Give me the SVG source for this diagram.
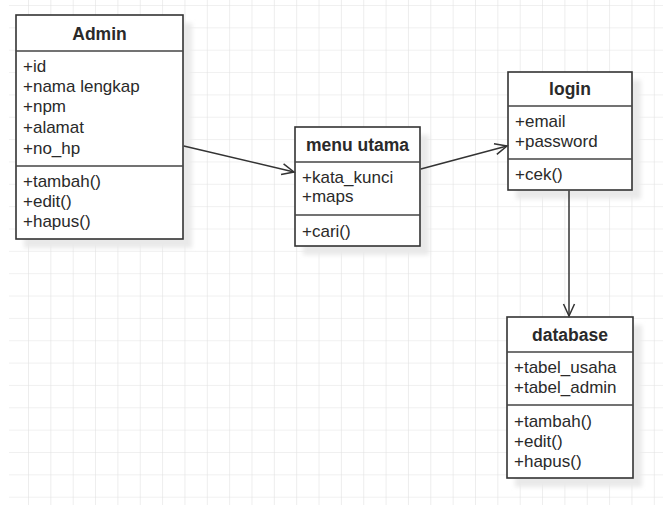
<svg xmlns="http://www.w3.org/2000/svg" width="663" height="505" viewBox="0 0 663 505">
<style>
.box{fill:#fff;stroke:#333;stroke-width:1.6}
.sep{stroke:#444;stroke-width:1.4;fill:none}
.shadow{fill:#e9e9e9;filter:url(#blur)}
.t{font-family:"Liberation Sans",Arial,sans-serif;font-size:17px;fill:#2a2a2a}
.h{font-family:"Liberation Sans",Arial,sans-serif;font-size:17.5px;font-weight:bold;fill:#2a2a2a;text-anchor:middle}
.edge{stroke:#333;stroke-width:1.5;fill:none;marker-end:url(#open)}
</style>
<defs>
<pattern id="grid" patternUnits="userSpaceOnUse" x="28" y="5" width="22.35" height="22.35">
<path d="M0 0H22.35M0 0V22.35" stroke="#e2e2e2" stroke-width="1.2" fill="none"/>
</pattern>
<filter id="blur" x="-10%" y="-10%" width="120%" height="120%"><feGaussianBlur stdDeviation="2"/></filter>
<marker id="open" markerWidth="16" markerHeight="14" refX="13" refY="7" orient="auto" markerUnits="userSpaceOnUse">
<path d="M1 1.5L13 7L1 12.5" fill="none" stroke="#333" stroke-width="1.5"/>
</marker>
</defs>
<rect width="663" height="505" fill="#fff"/>
<rect x="9" y="0" width="654" height="505" fill="url(#grid)"/>

<g id="admin">
<rect class="shadow" x="24" y="23" width="168" height="225"/>
<rect class="box" x="16" y="15" width="167" height="224"/>
<line class="sep" x1="16" y1="51" x2="183" y2="51"/>
<line class="sep" x1="16" y1="166" x2="183" y2="166"/>
<text class="h" x="99.5" y="40">Admin</text>
<text class="t" x="23" y="72">+id</text>
<text class="t" x="23" y="92">+nama lengkap</text>
<text class="t" x="23" y="112">+npm</text>
<text class="t" x="23" y="133">+alamat</text>
<text class="t" x="23" y="154">+no_hp</text>
<text class="t" x="23" y="187">+tambah()</text>
<text class="t" x="23" y="207">+edit()</text>
<text class="t" x="23" y="227">+hapus()</text>
</g>

<g id="menu-utama">
<rect class="shadow" x="303" y="135" width="126" height="120"/>
<rect class="box" x="295" y="127" width="125" height="119"/>
<line class="sep" x1="295" y1="162" x2="420" y2="162"/>
<line class="sep" x1="295" y1="215" x2="420" y2="215"/>
<text class="h" x="357.5" y="151">menu utama</text>
<text class="t" x="302" y="183">+kata_kunci</text>
<text class="t" x="302" y="202">+maps</text>
<text class="t" x="302" y="237">+cari()</text>
</g>

<g id="login">
<rect class="shadow" x="516" y="80" width="125" height="119"/>
<rect class="box" x="508" y="72" width="124" height="118"/>
<line class="sep" x1="508" y1="106" x2="632" y2="106"/>
<line class="sep" x1="508" y1="159" x2="632" y2="159"/>
<text class="h" x="570" y="95">login</text>
<text class="t" x="515" y="127">+email</text>
<text class="t" x="515" y="147">+password</text>
<text class="t" x="515" y="180">+cek()</text>
</g>

<g id="database">
<rect class="shadow" x="515" y="325" width="127" height="162"/>
<rect class="box" x="507" y="317" width="126" height="161"/>
<line class="sep" x1="507" y1="352" x2="633" y2="352"/>
<line class="sep" x1="507" y1="405" x2="633" y2="405"/>
<text class="h" x="570" y="341">database</text>
<text class="t" x="514" y="373">+tabel_usaha</text>
<text class="t" x="514" y="393">+tabel_admin</text>
<text class="t" x="514" y="427">+tambah()</text>
<text class="t" x="514" y="447">+edit()</text>
<text class="t" x="514" y="467">+hapus()</text>
</g>

<g id="connectors">
<line class="edge" x1="183.8" y1="146" x2="294" y2="172"/>
<line class="edge" x1="420.8" y1="169" x2="507" y2="146"/>
<line class="edge" x1="569" y1="190.8" x2="569" y2="316"/>
</g>
</svg>
